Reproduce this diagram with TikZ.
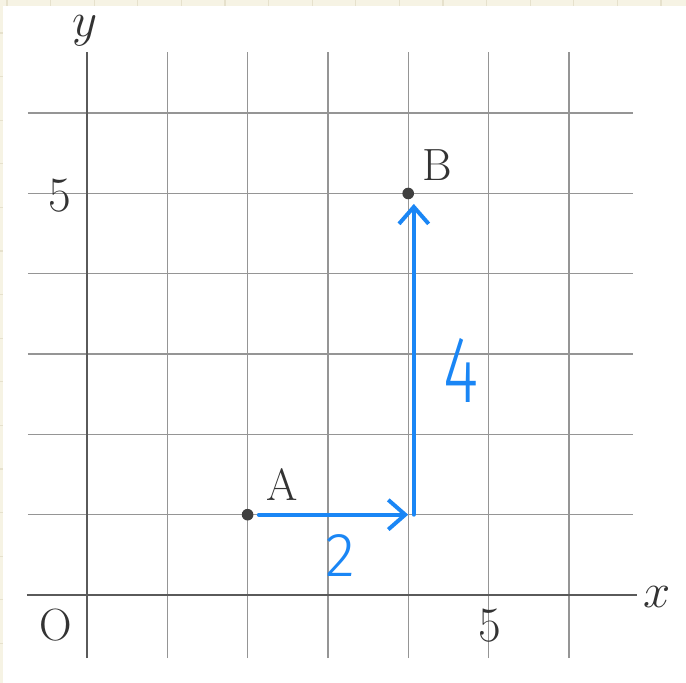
\documentclass[tikz,border=0pt]{standalone}
\usepackage{fontspec}
\newfontfamily\handfont{Fira Sans Light}
\usetikzlibrary{arrows.meta}
\definecolor{cream}{HTML}{F6F3E4}
\definecolor{creamline}{HTML}{E6E1CC}
\definecolor{penblue}{HTML}{1A86F5}
\definecolor{gridgray}{HTML}{959595}
\definecolor{axisgray}{HTML}{5A5A5A}
\tikzset{
  gridline/.style={draw=gridgray, line width=0.5pt},
  axisline/.style={draw=axisgray, line width=0.75pt},
  ptdot/.style={circle, fill=black!75, inner sep=0pt, minimum size=0.145cm},
  lbl/.style={font=\fontsize{16}{18}\selectfont, text=black!80, inner sep=0pt},
  numlbl/.style={font=\fontsize{17.5}{19}\selectfont, text=black!80, inner sep=0pt},
  penarrow/.style={draw=penblue, line width=1.4pt, line cap=round,
    -{Straight Barb[length=6pt, width=10.5pt, line width=1.4pt]}},
  penlabel/.style={text=penblue, inner sep=0pt}
}
\begin{document}
\begin{tikzpicture}[x=1cm,y=1cm]
% bounding box and background
\fill[cream] (-1.0834,-1.0959) rectangle (7.4595,7.4097);
\useasboundingbox (-1.0834,-1.0959) rectangle (7.4595,7.4097);
\foreach \k in {0,...,16} {
  \draw[creamline, line width=0.4pt] ({(7+43.6*\k-87)/80.3},7.4097) -- ++(0,-0.1);
}
\foreach \k in {0,...,16} {
  \draw[creamline, line width=0.4pt] (-1.0834,{(595-33-43.6*\k)/80.3}) -- ++(0.06,0);
}
\fill[white] ({(3-87)/80.3},-1.0959) rectangle (7.4595,{(595-6)/80.3});
% grid
\foreach \i in {1,...,6} {
  \draw[gridline] (\i,-0.785) -- (\i,6.76);
  \draw[gridline] (-0.735,\i) -- (6.80,\i);
}
% axes
\draw[axisline] (-0.75,0) -- (6.85,0);
\draw[axisline] (0,-0.785) -- (0,6.76);
% axis labels
\node[lbl] (ylab) at (-0.025,7.03) {$y$};
\node[lbl] (xlab) at (7.10,-0.02) {$x$};
\node[lbl] (olab) at (-0.39,-0.37) {O};
\node[numlbl] (xfive) at (5.02,-0.38) {5};
\node[numlbl] (yfive) at (-0.34,4.97) {5};
% points
\node[ptdot] (A) at (2,1) {};
\node[ptdot] (B) at (4,5) {};
\node[lbl] (Alab) at (2.43,1.37) {A};
\node[lbl] (Blab) at (4.36,5.35) {B};
% pen arrows
\coordinate (C) at (4,1);
\coordinate (Cup) at (4.07,1.0);
\coordinate (Bbelow) at (4.07,4.87);
\draw[penarrow] (A.east) ++(0.06,0) -- (C);
\draw[penarrow] (Cup) -- (Bbelow);
\node[penlabel, font={\handfont\fontsize{22}{24}\selectfont}] (two) at (3.15,0.49) {2};
\node[penlabel, font={\handfont\fontsize{30}{32}\selectfont}, xscale=0.8, yscale=1.12] (four) at (4.66,2.80) {4};
\end{tikzpicture}
\end{document}
